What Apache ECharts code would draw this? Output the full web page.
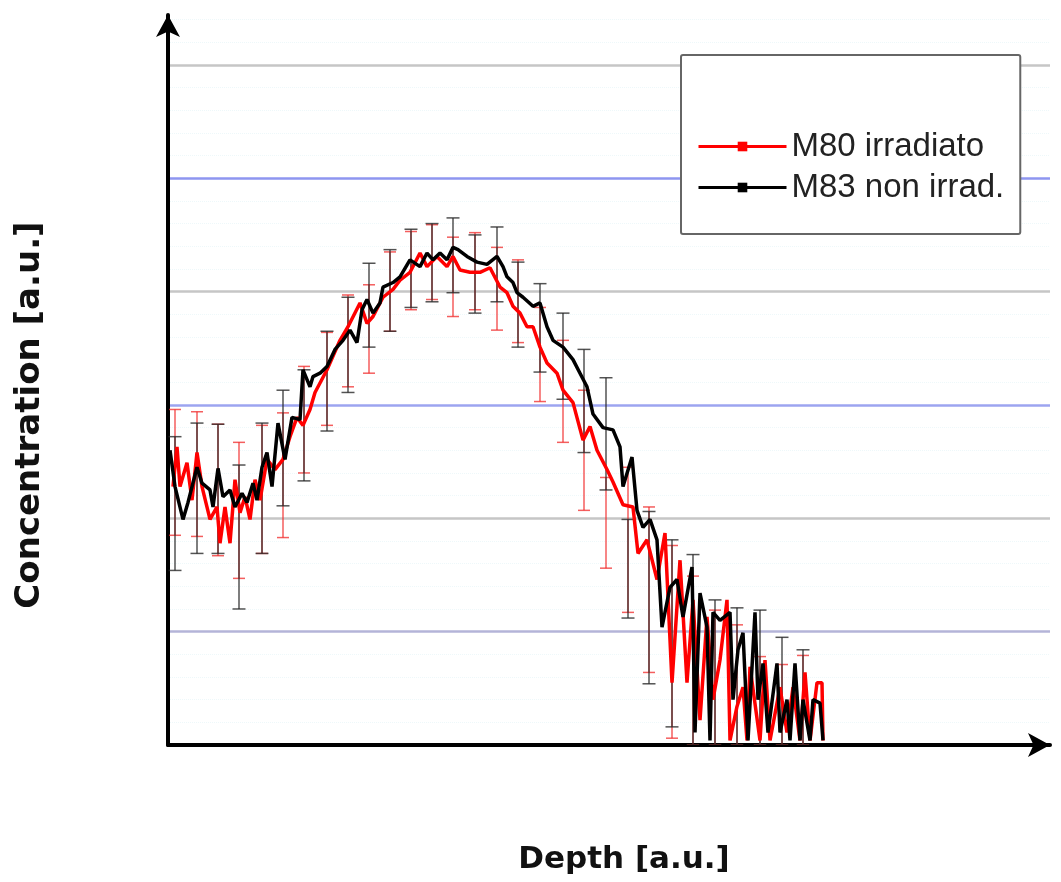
<!DOCTYPE html>
<html><head><meta charset="utf-8">
<script src="https://cdn.jsdelivr.net/npm/echarts@6/dist/echarts.min.js"></script>
<style>html,body{margin:0;padding:0;background:#fff}#c{width:1061px;height:882px}</style>
</head><body><div id="c"></div>
<script>
// M83 non irradiato (black)
const m83Depth = [2,7,15,20,29,34,42,45,50,55,62,67,74,79,85,89,94,99,104,110,117,124,132,135,142,145,152,159,167,175,182,189,194,199,205,212,215,225,232,242,252,259,265,272,279,285,290,299,309,319,329,335,339,345,349,355,365,372,379,385,395,405,412,419,425,435,445,452,455,464,469,475,482,489,494,502,509,515,524,527,532,539,542,545,552,562,565,570,575,580,587,590,595,600,609,612,619,622,627,632,635,642,645,652,655];
const m83Conc = [2.60,2.28,1.99,2.14,2.45,2.31,2.25,2.10,2.44,2.19,2.25,2.10,2.22,2.14,2.31,2.16,2.45,2.58,2.28,2.84,2.52,2.89,2.87,3.31,3.16,3.25,3.28,3.34,3.49,3.57,3.66,3.55,3.84,3.93,3.81,3.90,4.04,4.08,4.13,4.28,4.22,4.34,4.28,4.34,4.28,4.39,4.37,4.31,4.26,4.24,4.31,4.22,4.13,4.08,3.99,3.95,3.87,3.90,3.69,3.57,3.51,3.40,3.28,3.16,2.92,2.80,2.78,2.63,2.28,2.54,2.07,1.92,1.99,1.81,1.04,1.39,1.46,1.13,1.57,0.11,1.34,1.04,0.04,1.17,1.10,1.17,0.40,0.84,0.99,0.04,1.17,0.40,0.72,0.11,0.72,0.11,0.40,0.04,0.72,0.04,0.40,0.04,0.40,0.37,0.04];
// M80 irradiato (red)
const m80Depth = [5,9,12,19,24,29,34,42,49,52,57,62,67,72,77,82,87,92,99,107,115,122,129,135,142,147,159,172,180,192,199,205,215,225,232,242,252,259,269,279,285,292,302,312,322,332,339,345,352,359,365,372,379,389,395,405,415,422,429,439,445,455,465,470,479,489,497,504,512,519,525,532,539,545,552,559,562,569,575,579,582,592,597,602,612,619,625,632,637,642,649,654,655];
const m80Conc = [2.28,2.63,2.28,2.49,2.16,2.58,2.28,1.99,2.10,1.78,2.10,1.78,2.34,2.05,2.19,1.99,2.34,2.16,2.52,2.43,2.52,2.72,2.89,2.82,2.96,3.11,3.31,3.57,3.69,3.90,3.72,3.78,3.95,4.02,4.10,4.17,4.34,4.22,4.31,4.22,4.31,4.19,4.17,4.17,4.21,4.04,3.99,3.87,3.81,3.69,3.69,3.51,3.37,3.28,3.13,3.02,2.69,2.81,2.60,2.43,2.32,2.12,2.10,1.69,1.81,1.46,1.87,0.55,1.63,0.55,1.28,0.22,1.13,0.40,0.75,1.28,0.04,0.34,0.51,0.04,0.69,0.04,0.75,0.04,0.51,0.11,0.51,0.04,0.64,0.04,0.55,0.55,0.04];
// error bars
const errDepth = [7,29,50,71,94,115,136,159,180,201,222,243,264,285,307,329,350,372,395,416,438,460,481,504,525,547,569,592,614,635];
const m83ErrHigh = [2.72,2.84,2.83,2.47,2.84,3.13,3.31,3.65,3.95,4.25,4.37,4.55,4.60,4.65,4.50,4.57,4.26,4.07,3.81,3.49,3.24,1.99,2.06,1.81,1.68,1.28,1.21,1.19,0.95,0.84];
const m83ErrLow = [1.54,1.69,1.69,1.20,1.69,2.11,2.33,2.77,3.11,3.51,3.65,3.86,3.91,3.99,3.81,3.91,3.51,3.29,3.05,2.58,2.25,1.12,0.54,0.16,0,0,0,0,0,0];
const m80ErrHigh = [2.96,2.94,2.83,2.67,2.82,2.93,3.34,3.64,3.97,4.06,4.35,4.53,4.59,4.48,4.52,4.39,4.28,3.86,3.57,3.13,2.36,2.45,2.10,1.76,1.49,1.19,1.06,0.78,0.71,0.79];
const m80ErrLow = [1.85,1.84,1.67,1.47,1.69,1.83,2.40,2.82,3.16,3.28,3.65,3.84,3.93,3.78,3.84,3.66,3.55,3.03,2.67,2.07,1.56,1.17,0.64,0.06,0,0,0,0,0,0];
const seriesNames = ['M80 irradiato', 'M83 non irrad.'];
const xName = 'Depth [a.u.]';
const yName = 'Concentration [a.u.]';

const zip = (a, b) => a.map((v, i) => [v, b[i]]);
const zip3 = (a, b, c) => a.map((v, i) => [v, b[i], c[i]]);

function errRender(color, capW, lw) {
  return function (params, api) {
    const x = api.value(0), lo = api.value(1), hi = api.value(2);
    const pHi = api.coord([x, hi]);
    const pLo = api.coord([x, lo]);
    const st = { stroke: color, lineWidth: lw };
    return {
      type: 'group',
      children: [
        { type: 'line', shape: { x1: pHi[0], y1: pHi[1], x2: pLo[0], y2: pLo[1] }, style: st },
        { type: 'line', shape: { x1: pHi[0] - capW / 2, y1: pHi[1], x2: pHi[0] + capW / 2, y2: pHi[1] }, style: st },
        { type: 'line', shape: { x1: pLo[0] - capW / 2, y1: pLo[1], x2: pLo[0] + capW / 2, y2: pLo[1] }, style: st }
      ]
    };
  };
}

const chart = echarts.init(document.getElementById('c'));
chart.setOption({
  backgroundColor: '#ffffff',
  animation: false,
  grid: { left: 168, right: 11, top: 15, bottom: 137 },
  legend: {
    data: seriesNames,
    orient: 'vertical',
    left: 681, top: 55,
    padding: [75, 16, 30, 16],
    itemGap: 8,
    itemWidth: 88, itemHeight: 12,
    backgroundColor: '#ffffff',
    borderColor: '#666666', borderWidth: 2, borderRadius: 2,
    lineStyle: { width: 3 },
    textStyle: { fontFamily: 'Liberation Sans', fontSize: 33, color: '#222222' }
  },
  xAxis: {
    type: 'value', min: 0, max: 882,
    name: xName, nameLocation: 'middle', nameGap: 99,
    nameTextStyle: { fontFamily: 'DejaVu Sans', fontWeight: 'bold', fontSize: 31, color: '#111', padding: [0, 0, 0, 30] },
    axisLine: { show: true, symbol: ['none', 'arrow'], symbolSize: [18, 22], lineStyle: { color: '#000', width: 4 } },
    axisTick: { show: false }, axisLabel: { show: false }, splitLine: { show: false }
  },
  yAxis: {
    type: 'value', min: 0, max: 6.44, interval: 1,
    name: yName, nameLocation: 'middle', nameGap: 121, nameRotate: 90,
    nameTextStyle: { fontFamily: 'DejaVu Sans', fontWeight: 'bold', fontSize: 34, color: '#111', padding: [0, 70, 0, 0] },
    axisLine: { show: true, symbol: ['none', 'arrow'], symbolSize: [18, 22], lineStyle: { color: '#000', width: 4 } },
    axisTick: { show: false }, axisLabel: { show: false },
    splitLine: {
      show: true, showMinLine: false, showMaxLine: false,
      lineStyle: { width: 2.5, color: ['#b4b4d8', '#c6c6c6', '#9ca4f0', '#c6c6c6', '#8e96f0', '#c6c6c6'] }
    },
    minorTick: { show: false, splitNumber: 5 },
    minorSplitLine: { show: true, lineStyle: { color: '#eef8fa', type: 'dotted', width: 1 } }
  },
  series: [
    {
      name: 'errM80', type: 'custom', renderItem: errRender('rgba(240,40,40,0.75)', 12, 1.5),
      data: zip3(errDepth, m80ErrLow, m80ErrHigh), encode: { x: 0, y: [1, 2] }, z: 1, clip: true, silent: true
    },
    {
      name: 'errM83', type: 'custom', renderItem: errRender('rgba(40,40,40,0.8)', 13, 1.5),
      data: zip3(errDepth, m83ErrLow, m83ErrHigh), encode: { x: 0, y: [1, 2] }, z: 1, clip: true, silent: true
    },
    {
      name: seriesNames[0], type: 'line', data: zip(m80Depth, m80Conc),
      symbol: 'rect', symbolSize: 9, showSymbol: false,
      itemStyle: { color: '#ff0000' }, lineStyle: { color: '#ff0000', width: 3.5 }, z: 3
    },
    {
      name: seriesNames[1], type: 'line', data: zip(m83Depth, m83Conc),
      symbol: 'rect', symbolSize: 9, showSymbol: false,
      itemStyle: { color: '#000000' }, lineStyle: { color: '#000000', width: 3.5 }, z: 4
    }
  ]
});
</script>
</body></html>
